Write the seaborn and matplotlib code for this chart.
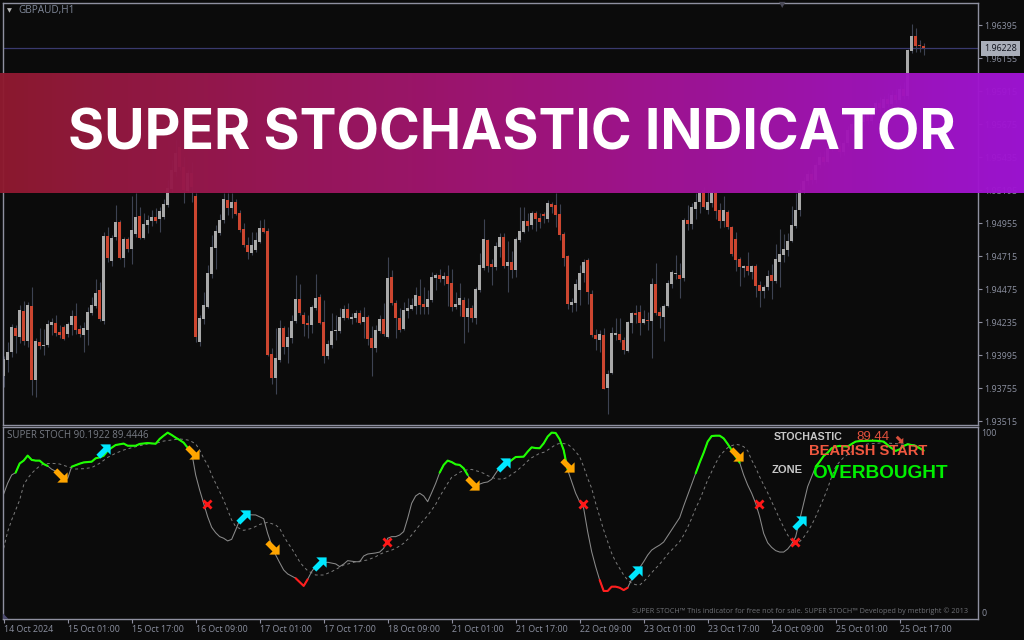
import numpy as np
import matplotlib
matplotlib.use('Agg')
import matplotlib.pyplot as plt
from matplotlib.path import Path
from matplotlib.colors import LinearSegmentedColormap
import seaborn as sns

# candles, H1 bars, in points above 1.90000 (bars 42-47 and 200-226 sit behind the banner: estimated)
open_pts = [3845,3961,4017,4194,4128,4317,4099,4354,3816,4092,
    4063,4070,4216,4230,4165,4201,4150,4216,4281,4187,
    4143,4179,4303,4354,4470,4245,4863,4681,4855,4964,
    4703,4841,4768,4877,5008,4848,4943,4972,5001,4986,
    5001,5088,5205,5330,5512,5367,5190,5320,5153,4092,
    4259,4347,4586,4775,4884,4979,5124,5066,5110,5030,
    4913,4797,4739,4761,4819,4921,4899,4005,3830,3961,
    4194,4056,4121,4245,4405,4288,4230,4216,4339,4419,
    4237,3990,4070,4172,4172,4264,4332,4259,4267,4303,
    4237,4274,4121,4048,4172,4259,4128,4565,4376,4267,
    4187,4317,4332,4354,4426,4368,4347,4397,4557,4579,
    4550,4572,4521,4347,4361,4397,4274,4339,4267,4470,
    4630,4834,4659,4637,4783,4855,4645,4674,4615,4834,
    4892,4972,4943,5030,4993,5023,4986,5095,5088,5023,
    4877,4717,4361,4376,4470,4594,4688,4441,4143,4107,
    4143,3758,3867,4143,4150,4107,4027,4230,4303,4310,
    4230,4252,4245,4514,4310,4274,4354,4514,4586,4579,
    4557,4979,4950,5059,5110,5197,5052,5102,5173,5052,
    4972,5037,4928,4841,4695,4630,4645,4601,4645,4506,
    4463,4492,4579,4536,4674,4725,4761,4826,4935,5052,
    5197,5260,5310,5270,5380,5440,5400,5500,5570,5520,
    5470,5540,5630,5680,5620,5690,5750,5700,5780,5830,
    5790,5860,5820,5890,5850,5930,5880,6207,6316,6251,
    6244]
high_pts = [3993,4095,4221,4216,4361,4390,4385,4492,4119,4191,
    4184,4252,4264,4288,4216,4216,4240,4325,4373,4216,
    4240,4349,4422,4550,4531,4894,4930,4870,5088,4979,
    4858,4858,5153,5173,5071,5027,5015,5052,5064,5076,
    5129,5270,5415,5560,5560,5440,5342,5400,5173,4288,
    4453,4652,4870,4943,5023,5178,5178,5178,5129,5052,
    4955,4858,4894,4894,4979,4984,4918,4046,4191,4252,
    4208,4204,4288,4579,4514,4313,4288,4361,4586,4441,
    4397,4107,4300,4288,4337,4361,4373,4300,4325,4325,
    4349,4288,4208,4216,4288,4373,4708,4615,4397,4337,
    4385,4409,4409,4494,4548,4494,4470,4598,4591,4620,
    4603,4652,4620,4458,4523,4417,4409,4361,4494,4737,
    4986,4838,4693,4821,4882,4882,4826,4754,4858,5076,
    5076,5032,5047,5047,5032,5040,5124,5112,5178,5095,
    4894,4725,4409,4548,4652,4693,4700,4470,4184,4179,
    4191,3889,4204,4264,4264,4131,4247,4313,4361,4361,
    4325,4313,4555,4664,4349,4368,4543,4615,4725,4664,
    4991,5088,5100,5173,5185,5221,5185,5197,5185,5100,
    5153,5052,4935,4889,4708,4652,4746,4652,4659,4538,
    4506,4615,4659,4804,4913,4877,4882,5081,5173,5245,
    5290,5340,5350,5400,5470,5480,5520,5600,5610,5550,
    5560,5660,5700,5720,5710,5770,5790,5800,5850,5870,
    5880,5900,5920,5930,5960,5980,6225,6404,6375,6287,
    6266]
low_pts = [3767,3876,3985,4015,4082,4070,4058,3707,3690,4039,
    3998,4058,4143,4138,4119,4107,4131,4143,4150,4131,
    4022,4070,4288,4337,4247,4223,4676,4647,4834,4693,
    4640,4749,4659,4858,4841,4843,4882,4938,4955,4894,
    4984,5076,5185,5300,5345,5100,5180,5112,4095,4065,
    4223,4337,4555,4620,4870,4955,5015,4991,5015,4894,
    4785,4695,4725,4749,4809,4882,3990,3787,3714,3949,
    4005,3942,4087,4228,4288,4136,4119,4155,4325,4223,
    3937,3966,4046,4107,4155,4252,4257,4223,4240,4223,
    4124,4070,3847,4019,4160,4136,4121,4361,4124,4167,
    4179,4264,4325,4296,4296,4296,4296,4385,4470,4531,
    4506,4354,4320,4330,4281,4085,4165,4240,4223,4458,
    4615,4603,4506,4615,4712,4628,4458,4557,4562,4821,
    4882,4901,4911,4901,4923,4955,4964,5027,4930,4834,
    4645,4330,4313,4320,4361,4531,4368,4131,4034,4019,
    3748,3569,3859,4107,4095,4005,4019,4160,4228,4143,
    4223,4179,3976,4288,4191,4099,4349,4482,4548,4409,
    4538,4906,4911,4984,5027,5064,5023,5076,4984,4921,
    4930,4916,4717,4608,4499,4562,4579,4550,4422,4349,
    4409,4470,4407,4523,4489,4671,4717,4821,4918,5008,
    5175,5230,5240,5250,5360,5380,5390,5480,5500,5440,
    5450,5520,5610,5600,5600,5670,5680,5680,5760,5760,
    5770,5800,5800,5830,5830,5860,5860,6193,6200,6200,
    6178]
close_pts = [3969,4017,4201,4136,4325,4099,4361,3816,4099,4063,
    4070,4223,4237,4158,4143,4114,4223,4281,4179,4150,
    4194,4310,4361,4448,4259,4863,4703,4848,4964,4703,
    4841,4768,4906,5001,4848,4950,4979,5001,4972,5044,
    5095,5209,5342,5464,5367,5200,5320,5220,4131,4267,
    4361,4594,4783,4899,4979,5132,5066,5110,5023,4906,
    4797,4746,4797,4834,4921,4892,3998,3830,3976,4194,
    4056,4128,4245,4405,4303,4223,4216,4347,4412,4230,
    3990,4077,4172,4179,4274,4332,4267,4274,4303,4230,
    4274,4114,4048,4179,4259,4150,4557,4376,4267,4179,
    4325,4339,4361,4434,4361,4347,4405,4565,4579,4550,
    4572,4514,4347,4368,4412,4274,4339,4267,4477,4652,
    4841,4645,4635,4790,4855,4645,4674,4615,4841,4899,
    4972,4935,5030,4986,4964,5008,5102,5073,5015,4870,
    4703,4368,4383,4514,4594,4674,4456,4143,4114,4150,
    3750,3859,4158,4158,4107,4034,4237,4303,4288,4230,
    4259,4242,4514,4303,4281,4354,4521,4601,4594,4550,
    4979,4950,5073,5110,5178,5076,5110,5185,5044,4972,
    5052,4928,4732,4688,4637,4645,4608,4645,4499,4463,
    4492,4572,4536,4695,4732,4768,4826,4943,5052,5197,
    5260,5310,5270,5380,5440,5400,5500,5570,5520,5470,
    5540,5630,5680,5620,5690,5750,5700,5780,5830,5790,
    5860,5820,5890,5850,5930,5880,6215,6316,6244,6244,
    6228]

price_ticks = [1.93515,1.93755,1.93995,1.94235,1.94475,1.94715,1.94955,1.95195,
               1.95435,1.95675,1.95915,1.96155,1.96395]
date_bars = [0,16,32,48,64,80,96,112,128,144,160,176,192,208,224]
date_labels = ['14 Oct 2024','15 Oct 01:00','15 Oct 17:00','16 Oct 09:00','17 Oct 01:00',
               '17 Oct 17:00','18 Oct 09:00','21 Oct 01:00','21 Oct 17:00','22 Oct 09:00',
               '23 Oct 01:00','23 Oct 17:00','24 Oct 09:00','25 Oct 01:00','25 Oct 17:00']

# stochastic main line: bar, value
main_bars = [0,1,2,3,4,5,6,7,8,9,10,11,12,14,16,17,19,20,22,23,24,25,26,27,28,30,31,33,34,36,38,39,40,41,42,43,44,45,46,47,
    48,49,50,51,52,53,54,55,56,57,58,59,60,61,63,65,66,67,68,69,70,71,73,75,76,77,78,79,81,83,84,
    85,86,88,89,90,91,93,94,95,96,97,98,99,100,101,102,103,104,105,106,107,108,109,110,111,112,113,114,115,116,117,118,119,120,
    121,122,123,124,125,126,127,128,130,131,132,133,134,135,136,137,138,139,140,141,142,143,144,145,146,147,148,149,150,151,152,
    153,154,155,156,157,158,159,160,161,162,163,164,165,166,167,168,169,
    170,171,172,173,174,175,176,177,178,179,180,181,182,183,184,185,186,187,188,189,190,191,192,193,194,195,196,197,198,199,
    200,201,202,203,204,205,206,207,208,209,211,212,213,214,216,218,219,220,221,222,223,224,225,226,227,228,229,230]
main_vals = [66,72,76.6,77.9,83,84.6,87.4,85,84.6,84.6,82.7,81.6,79.8,77.5,74.7,81.2,82.9,83.6,84,85.9,86.4,87.3,90.2,91.8,93.3,94.1,92.9,92.9,93.9,94.4,94,96.7,98.5,100.2,98.9,97.4,96.1,94.6,91.8,89.2,
    76.6,68.2,60.8,53.3,47.4,44.4,42.2,41.3,39.8,40.7,45.9,51.5,53.7,54.4,54.3,52.2,44,37.5,32,27.7,23.6,21.4,19,14.7,18.4,22.7,25.8,27.3,27.9,27,25.5,
    26.9,28.8,28.2,28.2,31.4,32.5,33.1,33.6,35.7,41.3,42.2,42.2,43.1,45,52.4,60.8,64.9,66.4,64.9,61.7,66.7,71.9,77.9,82.2,84.6,83.8,82.5,82.2,80.3,76.6,71.9,70.6,71.5,72.3,
    72.7,74.2,77.5,80.8,82,83.1,84.9,86.6,86.8,89.6,92,91.6,91.5,94.2,98,100.2,100,96.5,90.5,79.4,72.9,66.4,61.7,58,45,33.8,25.4,18,11.9,11.9,14.3,
    14.3,13.7,12.4,13.7,18.4,20.2,24.9,28.2,31.9,34.7,36.2,37.5,39.2,42.6,45.9,49.3,52.8,
    59.3,65.4,71.6,77.5,83.5,89,95.2,98.3,98.5,98.5,97,93.9,90.5,86.8,83.5,76.6,71,66.4,60.8,53.3,44,38.8,36.2,34.4,33.6,33.6,35.3,38.1,42.2,51.5,
    60.8,70.1,75.6,81.2,84,87.2,89,91.5,92.4,92.8,92.4,93.9,95.2,95.5,95.7,95.7,95.5,95.2,93.3,91.5,90,90.9,92.8,93.7,93.3,92.8,91.5,90.19]
# signal line: bar, value
signal_bars = [0,1,2,3,4,5,6,7,8,9,10,12,14,16,18,20,22,24,26,28,30,32,34,36,38,40,42,44,46,47,48,49,50,51,52,53,54,55,56,57,58,60,62,64,66,68,69,70,71,72,73,74,75,76,78,80,82,84,
    85,86,88,90,91,92,93,94,95,97,98,99,100,101,102,103,104,105,106,107,108,109,110,111,112,113,114,115,116,117,118,119,120,121,122,123,124,125,126,127,128,129,130,
    131,132,133,134,135,136,137,138,139,140,141,142,143,144,145,146,147,148,149,150,151,152,153,154,155,156,157,158,159,160,161,162,163,164,165,166,167,169,
    170,171,172,173,174,175,176,177,178,179,180,181,182,183,184,185,186,187,188,189,190,191,192,193,194,195,196,197,198,199,200,201,202,203,204,205,206,207,208,209,210,212,214,216,218,220,222,224,226,228,229,230]
signal_vals = [35.7,45,51.5,57,62.6,71,74.7,77.5,79.7,81.6,82.7,83.1,82.7,81.2,79.9,80.1,80.7,83.1,86.4,88.7,90.5,91.8,92.9,93.9,94.2,95.5,96.1,96.7,96.1,95.2,93.9,90.5,85.9,82.2,76.6,71.9,67.3,62.6,57,51.5,47.8,45.7,46.8,49,50.2,48.7,46.8,42.6,38.8,35.7,32,28.2,25.4,23.2,20.8,20.8,22.7,25.1,
    26.4,26.9,28.2,28.8,29.2,30.1,31,32.3,33.3,34.7,35.7,37,38.5,40.7,43.1,45.9,48.7,51.5,53.9,57,60.2,64.5,68.2,71.9,75.3,76.6,78.1,79,79.5,79.7,79,78.4,77.5,76.2,75.3,74.5,74.3,74.5,75.3,77,78.4,80.3,82.2,
    84.4,86.2,87.4,88.7,89.2,90.5,92,93.5,94.2,94.1,93.7,92,89.6,86.8,81.2,74.7,69.2,60.8,53.3,45.9,39.4,32.9,28.2,24.5,20.8,18,16.2,15.4,15.2,17.1,19.5,22.1,24.5,26.9,29.5,32.5,34.7,39.4,
    43.1,47.4,52.4,58,62.6,68.2,73.8,78.4,83.1,87.2,89.6,91.8,92.9,93.7,93.3,92.4,90.1,84.9,80.7,75.6,71,66.7,61.7,57,52,47.4,43.1,40,38.1,39.4,41.8,45,48.7,53.3,58.5,63.6,69.2,75.6,81.2,84,86.4,89.6,92.4,93.9,94.2,94.6,94.2,93.9,93.9,93.3,91.5,89.44]

# overbought / oversold stretches of the main line, first and last bar
green_runs = [(3,11),(17,47),(109,116),(126,141),(173,184),(203,230)]
red_runs = [(73,76),(149,156)]

# signal arrows and crosses
cyan_bars = [24.9,59.9,78.9,124.9,157.8,198.8]
cyan_vals = [90.1,53.3,26.9,82.2,22.1,49.6]
orange_bars = [14.1,47,67,117,140.9,183]
orange_vals = [76.6,89.2,36.6,72.3,82.2,88.1]
cross_bars = [50.75,95.8,144.9,188.75,197.8]
cross_vals = [60.4,39.2,60.4,60.4,39]

BG = '#0b0b0b'
FRAME = '#8f90a0'
AXTXT = '#8b90a0'
UP = '#a9a9a9'
DOWN = '#cc4630'
WICK = '#3d4252'

sns.set_theme(style='dark', rc={'figure.facecolor':BG,'axes.facecolor':BG,'axes.edgecolor':FRAME,
    'axes.linewidth':1.0,'xtick.color':FRAME,'ytick.color':FRAME,'xtick.bottom':True,'ytick.right':True})
plt.rcParams['font.family'] = ['Open Sans','DejaVu Sans']

W,H = 1024.,640.
def box(x0,y0,x1,y1):
    return [x0/W,1-y1/H,(x1-x0)/W,(y1-y0)/H]
def ftext(x,y,s,**kw):
    kw.setdefault('va','center')
    return fig.text(x/W,1-y/H,s,**kw)

fig = plt.figure(figsize=(10.24,6.4),dpi=100)
ax = fig.add_axes(box(2.5,2.5,978.3,424.5))
ax2 = fig.add_axes(box(2.5,426.5,978.3,619.3))

# ==== candles
o,h,l,c = [1.9+np.array(a)/1e5 for a in (open_pts,high_pts,low_pts,close_pts)]
bars = np.arange(len(o))
ax.vlines(bars,l,h,color=WICK,lw=0.8,zorder=1)
bar_cols = [UP if b>=a else DOWN for a,b in zip(o,c)]
ax.bar(bars,np.maximum(np.abs(c-o),0.00007),bottom=np.minimum(o,c),width=0.75,color=bar_cols,lw=0,zorder=2)
ax.axhline(c[-1],color='#3a3a6e',lw=0.9,zorder=0)

x0,x1 = (2.5-3.67)/4,(978.3-3.67)/4
ax.set_xlim(x0,x1)
ax.set_ylim(1.93515+(421.3-424.5)*7.27e-5,1.93515+(421.3-2.5)*7.27e-5)
ax.set_xticks([])
ax.yaxis.tick_right()
ax.set_yticks(price_ticks)
ax.set_yticklabels(['%.5f'%t for t in price_ticks],color=AXTXT,fontsize=6.4)
ax.tick_params(axis='y',length=3,width=0.8,pad=1.2)

# ==== stochastic window
main_bars = np.array(main_bars)
main_vals = np.array(main_vals)
sns.lineplot(x=signal_bars,y=signal_vals,ax=ax2,color='#7c7c7c',lw=0.7,linestyle=(0,(3,3)),legend=False,estimator=None)
sns.lineplot(x=main_bars,y=main_vals,ax=ax2,color='#8a8a8a',lw=0.75,legend=False,estimator=None)
for runs,col in ((green_runs,'#1eff00'),(red_runs,'#ff1e1e')):
    for a,b in runs:
        m = (main_bars>=a)&(main_bars<=b)
        sns.lineplot(x=main_bars[m],y=main_vals[m],ax=ax2,color=col,lw=1.5,legend=False,estimator=None)

arrow_up = Path([(1,1),(-0.45,1),(0,0.55),(-1,-0.45),(-0.45,-1),(0.55,0),(1,-0.45),(1,1)],closed=True)
arrow_down = Path([(1,-1),(-0.45,-1),(0,-0.55),(-1,0.45),(-0.45,1),(0.55,0),(1,0.45),(1,-1)],closed=True)
sns.scatterplot(x=cyan_bars,y=cyan_vals,ax=ax2,marker=arrow_up,s=105,color='#00e8ff',linewidth=0,zorder=5,legend=False)
sns.scatterplot(x=orange_bars,y=orange_vals,ax=ax2,marker=arrow_down,s=105,color='#ffa500',linewidth=0,zorder=5,legend=False)
sns.scatterplot(x=cross_bars,y=cross_vals,ax=ax2,marker='x',s=34,color='#ff1818',linewidth=2,zorder=5,legend=False)
sns.scatterplot(x=[223.8],y=[96.7],ax=ax2,marker=arrow_down,s=30,color='#d9503c',linewidth=0,zorder=5,legend=False)

ax2.set_xlim(x0,x1)
ax2.set_ylim((612.3-619.3)/1.793,(612.3-426.5)/1.793)
ax2.set_xticks(date_bars)
ax2.set_xticklabels(date_labels,ha='left',color=AXTXT,fontsize=6.4)
ax2.tick_params(axis='x',length=3,width=0.8,pad=1)
ax2.yaxis.tick_right()
ax2.set_yticks([0,100])
ax2.set_yticklabels(['0','100'],color=AXTXT,fontsize=6.4)
ax2.tick_params(axis='y',length=0,pad=2.2)
ax2.set_xlabel('')
ax2.set_ylabel('')

# ==== chart texts
ftext(18,10,'GBPAUD,H1',color='#7f8798',fontsize=7.2)
ftext(9,10.5,'\u25BC',color='#b8b8b8',fontsize=4.6,ha='center',family='DejaVu Sans')
ftext(782,4.5,'\u25BC',color='#4a4a58',fontsize=6,ha='center',family='DejaVu Sans')
ftext(5.5,616.5,'\u25E3',color='#4c4a70',fontsize=5,ha='center',family='DejaVu Sans')
ftext(7,435,'SUPER STOCH 90.1922 89.4446',color='#777b84',fontsize=7)
ftext(968,611,'SUPER STOCH\u2122 This indicator for free not for sale. SUPER STOCH\u2122 Developed by metbright \u00a9 2013',
      color='#6f7176',fontsize=5.2,ha='right')
ftext(774,437.5,'STOCHASTIC',color='#c8c8c8',fontsize=7.7,fontweight='bold',family='Liberation Sans')
ftext(856,437.5,'89.44',color='#e0503c',fontsize=9.5,family='Liberation Sans')
ftext(809,451,'BEARISH START',color='#f0583f',fontsize=10.6,fontweight='bold',family='Liberation Sans')
ftext(772,470,'ZONE',color='#c8c8c8',fontsize=8,fontweight='bold',family='Liberation Sans')
ftext(812,473,'OVERBOUGHT',color='#00f000',fontsize=13.7,fontweight='bold',family='Liberation Sans')
fig.text(1000.5/W,1-48.8/H,'%.5f'%c[-1],color='#10131c',fontsize=6.4,ha='center',va='center',
         bbox=dict(boxstyle='square,pad=0.35',fc='#a9aeb9',ec='none'))

# ==== banner, nearly opaque
ban = fig.add_axes(box(0,72.5,1024,193),zorder=10)
cmap = LinearSegmentedColormap.from_list('ban',['#8f1a30','#a3157a','#a014d6'])
ban.imshow(np.linspace(0,1,256)[None,:],aspect='auto',cmap=cmap,alpha=0.97)
ban.set_axis_off()
fig.text(511.5/W,1-135/H,'SUPER STOCHASTIC INDICATOR',color='white',fontsize=39.8,fontweight='bold',
         family='Inter',ha='center',va='center',zorder=20)

fig.savefig('out.png',dpi=100,facecolor=BG)
